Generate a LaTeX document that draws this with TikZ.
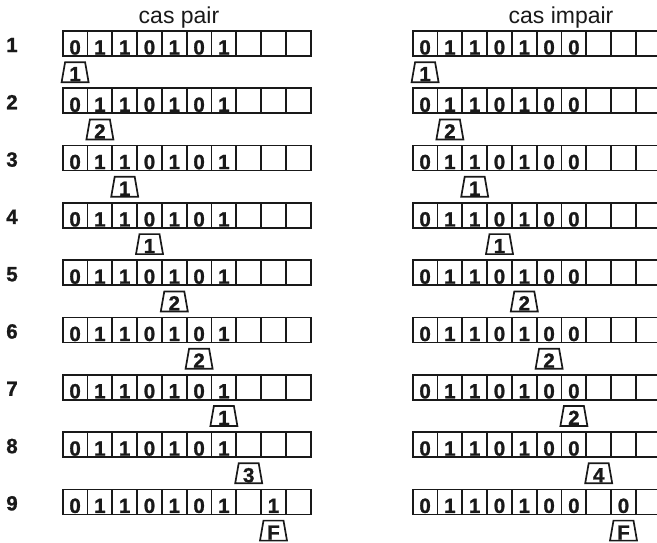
\documentclass[tikz,border=0pt]{standalone}
\usepackage{fontspec}
\setmainfont{Liberation Sans}
\newfontfamily\tapefamily[FakeBold=1.2]{Liberation Sans Bold}
\usetikzlibrary{shapes.geometric,positioning}

\newcommand\tapefont{\tapefamily\fontsize{20.5}{20.5}\selectfont}

\tikzset{
  cell/.style={draw=black!90,line width=1.7pt,minimum width=24.8pt,minimum height=25pt,
    inner sep=0pt,text height=22pt,text depth=0pt,font=\tapefont,text=black!90},
  head/.style={draw=black!90,line width=1.7pt,trapezium,trapezium angle=79,
    trapezium stretches body,minimum width=27pt,minimum height=20pt,inner sep=0pt,
    text height=18pt,text depth=0pt,font=\tapefont,text=black!90},
  rowlabel/.style={font=\tapefont,anchor=base,text=black!90},
  title/.style={font=\fontsize{23}{23}\selectfont,anchor=base,text=black!90}
}

\begin{document}
\begin{tikzpicture}[x=1pt,y=-1pt]
  \useasboundingbox (0,0) rectangle (657,542);
  \clip (0,0) rectangle (657,542);
  \def\cw{24.8}
  \def\rowsep{57.3}
  \def\xpair{62.7}
  \def\ximpair{412.7}

  \node[title] (tpair) at (179,23) {cas pair};
  \node[title] (timpair) at (561,23) {cas impair};

  % cas pair
  \foreach \r/\s in {1/1,2/2,3/1,4/1,5/2,6/2,7/1,8/3,9/F} {
    \pgfmathsetmacro\yc{43.5+(\r-1)*\rowsep}
    \node[rowlabel] (num\r) at (12,\yc+8.5) {\r};
    \ifnum\r=9 \def\bits{0,1,1,0,1,0,1,{},1,{}}\else\def\bits{0,1,1,0,1,0,1,{},{},{}}\fi
    \foreach \c [count=\i] in \bits {
      \node[cell] (pair\r-\i) at ({\xpair+(\i-0.5)*\cw},\yc) {\c};
    }
    \node[head,below=4.5pt of pair\r-\r] (hpair\r) {\s};
  }

  % cas impair
  \foreach \r/\s in {1/1,2/2,3/1,4/1,5/2,6/2,7/2,8/4,9/F} {
    \pgfmathsetmacro\yc{43.5+(\r-1)*\rowsep}
    \ifnum\r=9 \def\bits{0,1,1,0,1,0,0,{},0,{}}\else\def\bits{0,1,1,0,1,0,0,{},{},{}}\fi
    \foreach \c [count=\i] in \bits {
      \node[cell] (impair\r-\i) at ({\ximpair+(\i-0.5)*\cw},\yc) {\c};
    }
    \node[head,below=4.5pt of impair\r-\r] (himpair\r) {\s};
  }
\end{tikzpicture}
\end{document}
